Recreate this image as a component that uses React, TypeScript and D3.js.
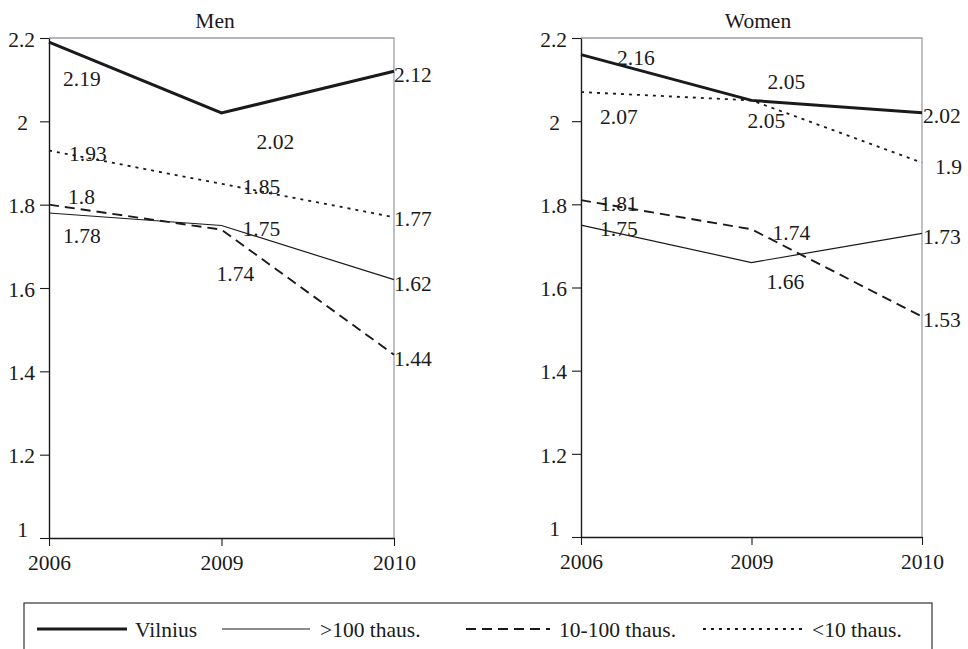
import { useEffect, useRef } from "react";
import * as d3 from "d3";

// categories and series
const years = ["2006", "2009", "2010"];
const seriesNames = ["Vilnius", ">100 thaus.", "10-100 thaus.", "<10 thaus."];
const yTicks = [1, 1.2, 1.4, 1.6, 1.8, 2, 2.2];

const menVilnius = [2.19, 2.02, 2.12];
const menOver100 = [1.78, 1.75, 1.62];
const men10to100 = [1.8, 1.74, 1.44];
const menUnder10 = [1.93, 1.85, 1.77];

const womenVilnius = [2.16, 2.05, 2.02];
const womenOver100 = [1.75, 1.66, 1.73];
const women10to100 = [1.81, 1.74, 1.53];
const womenUnder10 = [2.07, 2.05, 1.9];

// line look per series, same order as seriesNames
const lineStyles = [
  { width: 3, dash: null },
  { width: 1.2, dash: null },
  { width: 1.9, dash: "10,6" },
  { width: 1.8, dash: "3,5" },
];

// hand placed data labels, [dx, dy] from the point (px)
const menLabelOffsets = [
  [[14, 44], [35, 36], [0, 11]],
  [[14, 30], [21, 10], [0, 11]],
  [[19, -1], [-5, 51], [0, 11]],
  [[20, 10], [21, 10], [0, 9]],
];
const womenLabelOffsets = [
  [[36, 10], [16, -11], [1, 10]],
  [[19, 11], [15, 26], [1, 11]],
  [[19, 11], [21, 11], [1, 10]],
  [[19, 32], [-4, 28], [13, 11]],
];

const W = 968;
const H = 649;
const FONT = "'Liberation Serif', 'Times New Roman', Times, serif";
const FONT_SIZE = "21.5px";
const INK = "#1a1a1a";
const FRAME = "#9aa0a8";

interface PanelSpec {
  title: string;
  titleX: number;
  left: number;
  right: number;
  top: number;
  bottom: number;
  series: number[][];
  offsets: number[][][];
}

const panels: PanelSpec[] = [
  {
    title: "Men",
    titleX: 215,
    left: 49,
    right: 394,
    top: 38,
    bottom: 538,
    series: [menVilnius, menOver100, men10to100, menUnder10],
    offsets: menLabelOffsets,
  },
  {
    title: "Women",
    titleX: 758,
    left: 581,
    right: 922,
    top: 38,
    bottom: 537,
    series: [womenVilnius, womenOver100, women10to100, womenUnder10],
    offsets: womenLabelOffsets,
  },
];

type Svg = d3.Selection<SVGSVGElement, unknown, null, undefined>;

function drawPanel(svg: Svg, p: PanelSpec) {
  const x = d3.scalePoint<string>().domain(years).range([p.left, p.right]);
  const y = d3.scaleLinear().domain([1, 2.2]).range([p.bottom, p.top]);

  const g = svg.append("g");

  // gray frame on top and right
  g.append("path")
    .attr("d", `M${p.left},${p.top}H${p.right}V${p.bottom}`)
    .attr("fill", "none")
    .attr("stroke", FRAME)
    .attr("stroke-width", 1.3);

  // Y axis
  const yAxis = g
    .append("g")
    .attr("transform", `translate(${p.left},0)`)
    .call(
      d3
        .axisLeft(y)
        .tickValues(yTicks)
        .tickSize(9)
        .tickSizeOuter(0)
        .tickPadding(5)
        .tickFormat((d) => String(+d))
    );
  yAxis.attr("font-family", null).attr("font-size", null);
  yAxis.select(".domain").attr("stroke", INK).attr("stroke-width", 1.4);
  yAxis.selectAll(".tick line").attr("stroke", INK).attr("stroke-width", 1.1);
  yAxis
    .selectAll<SVGTextElement, number>(".tick text")
    .style("font-family", FONT)
    .style("font-size", FONT_SIZE)
    .attr("fill", INK)
    .attr("dy", (d) => (d === 1 ? "-0.05em" : "0.38em"))
    .attr("dx", (d) => (Number.isInteger(d) ? -7 : 0));

  // X axis
  const xAxis = g
    .append("g")
    .attr("transform", `translate(0,${p.bottom})`)
    .call(d3.axisBottom(x).tickSize(8).tickSizeOuter(0).tickPadding(9));
  xAxis.attr("font-family", null).attr("font-size", null);
  xAxis.select(".domain").attr("stroke", INK).attr("stroke-width", 1.6);
  xAxis.selectAll(".tick line").attr("stroke", INK).attr("stroke-width", 1.1);
  xAxis
    .selectAll(".tick text")
    .style("font-family", FONT)
    .style("font-size", FONT_SIZE)
    .attr("fill", INK);

  // title
  g.append("text")
    .attr("x", p.titleX)
    .attr("y", 28)
    .attr("text-anchor", "middle")
    .style("font-family", FONT)
    .style("font-size", FONT_SIZE)
    .attr("fill", INK)
    .text(p.title);

  const line = d3
    .line<number>()
    .x((_, i) => x(years[i])!)
    .y((d) => y(d));

  p.series.forEach((vals, si) => {
    const st = lineStyles[si];
    g.append("path")
      .datum(vals)
      .attr("d", line)
      .attr("fill", "none")
      .attr("stroke", INK)
      .attr("stroke-width", st.width)
      .attr("stroke-dasharray", st.dash)
      .attr("stroke-linejoin", "miter");
  });

  // data labels, drawn after lines so they sit on top
  p.series.forEach((vals, si) => {
    g.selectAll(null)
      .data(vals)
      .enter()
      .append("text")
      .attr("x", (_, i) => x(years[i])! + p.offsets[si][i][0])
      .attr("y", (d, i) => y(d) + p.offsets[si][i][1])
      .style("font-family", FONT)
      .style("font-size", FONT_SIZE)
      .attr("fill", INK)
      .text((d) => String(d));
  });
}

function drawLegend(svg: Svg) {
  const box = { left: 24, right: 932, top: 603, bottom: 670 };
  const lg = svg.append("g");
  lg.append("rect")
    .attr("x", box.left)
    .attr("y", box.top)
    .attr("width", box.right - box.left)
    .attr("height", box.bottom - box.top)
    .attr("fill", "none")
    .attr("stroke", "#333")
    .attr("stroke-width", 1.2);

  // sample line start, end and text start for each entry
  const slots = [
    [37, 127, 135],
    [222, 310, 320],
    [466, 550, 559],
    [703, 803, 812],
  ];
  const rowY = 629;
  seriesNames.forEach((name, i) => {
    const st = lineStyles[i];
    const [x0, x1, tx] = slots[i];
    lg.append("line")
      .attr("x1", x0)
      .attr("x2", x1)
      .attr("y1", rowY)
      .attr("y2", rowY)
      .attr("stroke", INK)
      .attr("stroke-width", st.width)
      .attr("stroke-dasharray", st.dash);
    lg.append("text")
      .attr("x", tx)
      .attr("y", rowY + 8)
      .style("font-family", FONT)
      .style("font-size", FONT_SIZE)
      .attr("fill", INK)
      .text(name);
  });
}

export default function App() {
  const svgRef = useRef<SVGSVGElement | null>(null);

  useEffect(() => {
    if (!svgRef.current) return;
    const svg = d3.select(svgRef.current);
    svg.selectAll("*").remove();
    svg.append("rect").attr("width", W).attr("height", H).attr("fill", "#fff");
    panels.forEach((p) => drawPanel(svg, p));
    drawLegend(svg);
  }, []);

  return (
    <svg
      ref={svgRef}
      width={W}
      height={H}
      style={{ position: "absolute", left: 0, top: 0, display: "block" }}
    />
  );
}
